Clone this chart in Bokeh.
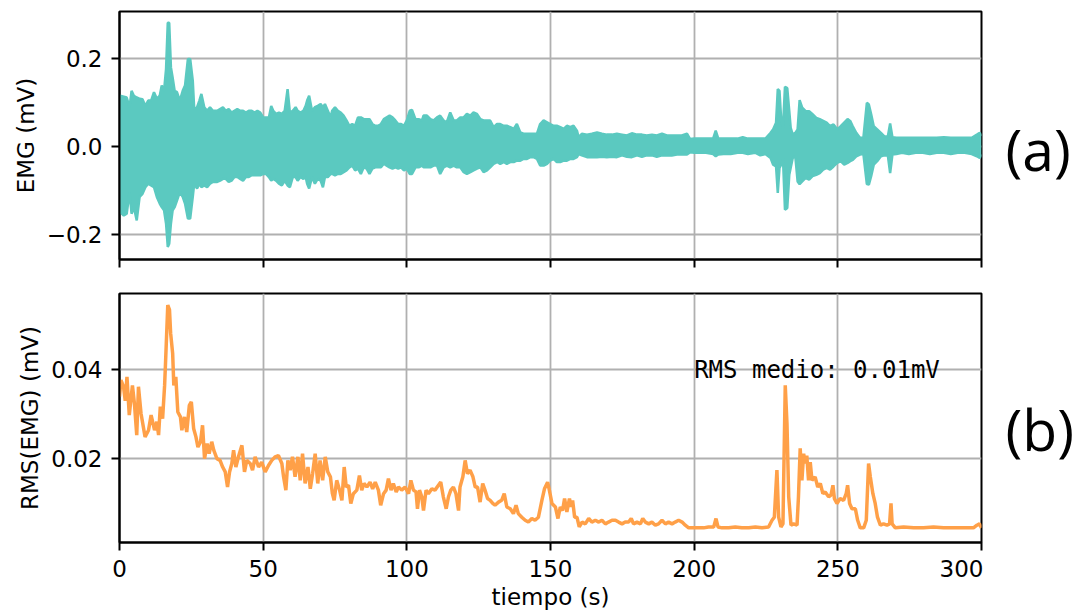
from bokeh.plotting import figure
from bokeh.layouts import column, row
from bokeh.models import Range1d, FixedTicker, Label, CustomJSTickFormatter
from bokeh.core.properties import value
from bokeh.embed import file_html
from bokeh.resources import INLINE

# ---------------- data ----------------
x_ticks = [0, 50, 100, 150, 200, 250, 300]
emg_y_ticks = [-0.2, 0.0, 0.2]
rms_y_ticks = [0.02, 0.04]

# EMG signal envelope (upper / lower extremes of the raw trace), mV
emg_t = [0.0, 0.2, 1.5, 2.5, 3.5, 4.2, 5.0, 6.0, 7.0, 8.0, 9.0, 10.0, 11.0, 12.0, 13.0, 14.0, 14.7, 15.5,
         16.2, 16.8, 17.3, 17.9, 18.5, 19.2, 20.0, 21.0, 22.0, 22.8, 23.8, 24.6, 25.5, 26.0, 27.0, 27.8,
         28.5, 29.5, 30.5, 31.5, 32.5, 34.0, 35.0, 36.0, 37.0, 38.0, 39.0, 40.0, 41.0, 42.0, 43.0, 44.0,
         45.0, 46.0, 47.0, 48.0, 49.0, 50.0, 51.0, 52.0, 52.8, 53.5, 54.5, 55.5, 56.5, 57.5, 58.5, 59.3,
         60.3, 61.3, 62.0, 63.0, 64.0, 64.8, 65.3, 66.0, 67.0, 68.0, 69.0, 70.0, 70.8, 71.5, 72.5, 73.5,
         74.0, 75.0, 76.0, 77.0, 78.0, 79.0, 80.0, 81.0, 82.0, 83.0, 84.0, 85.0, 86.0, 87.0, 88.0, 89.0,
         90.0, 91.0, 92.0, 93.0, 94.0, 95.0, 96.0, 97.0, 98.0, 99.0, 100.0, 101.0, 101.8, 103.0, 104.1,
         105.3, 105.8, 107.0, 108.2, 109.3, 110.5, 111.6, 112.8, 113.9, 115.1, 116.3, 117.4, 118.6, 119.8,
         120.9, 122.1, 123.2, 124.4, 125.6, 126.7, 127.9, 129.0, 130.2, 131.4, 132.5, 133.7, 134.8, 136.0,
         137.2, 138.3, 139.5, 140.6, 141.8, 143.0, 144.1, 145.3, 146.4, 147.6, 148.8, 149.9, 151.1, 152.2,
         153.4, 154.6, 155.7, 156.9, 158.0, 159.2, 159.8, 160.9, 162.7, 164.4, 166.2, 167.9, 169.6, 171.4,
         173.1, 174.9, 176.6, 178.3, 180.1, 181.8, 183.5, 185.3, 187.0, 188.8, 190.5, 192.2, 194.0, 195.7,
         197.5, 198.6, 200.0, 201.7, 204.1, 206.6, 207.5, 208.4, 210.2, 212.7, 215.1, 216.9, 218.7, 221.2,
         223.0, 224.8, 226.6, 227.5, 228.5, 229.1, 229.7, 230.3, 230.9, 231.6, 232.4, 233.1, 233.6, 234.3,
         235.2, 236.0, 236.7, 237.6, 238.8, 240.0, 241.2, 242.5, 243.7, 244.9, 246.1, 247.3, 248.5, 249.8,
         251.0, 252.2, 253.4, 254.3, 255.2, 256.4, 257.7, 258.9, 260.1, 260.8, 261.6, 262.5, 263.7, 265.0,
         266.2, 267.4, 268.2, 269.0, 270.4, 272.3, 274.7, 277.1, 279.6, 282.0, 284.4, 286.9, 289.3, 291.7,
         294.2, 296.6, 298.4, 299.4, 300.0]
emg_hi = [0.115, 0.115, 0.113, 0.111, 0.089, 0.126, 0.115, 0.111, 0.108, 0.107, 0.092, 0.104, 0.104, 0.123,
          0.108, 0.115, 0.138, 0.126, 0.175, 0.280, 0.280, 0.179, 0.156, 0.126, 0.123, 0.104, 0.126, 0.138,
          0.198, 0.198, 0.149, 0.085, 0.089, 0.104, 0.119, 0.089, 0.081, 0.089, 0.081, 0.081, 0.085, 0.089,
          0.081, 0.085, 0.077, 0.081, 0.085, 0.081, 0.081, 0.077, 0.081, 0.081, 0.077, 0.081, 0.077, 0.066,
          0.066, 0.066, 0.092, 0.081, 0.074, 0.077, 0.074, 0.081, 0.130, 0.077, 0.081, 0.089, 0.081, 0.077,
          0.081, 0.092, 0.104, 0.115, 0.081, 0.089, 0.092, 0.096, 0.089, 0.096, 0.081, 0.066, 0.081, 0.089,
          0.081, 0.077, 0.070, 0.059, 0.047, 0.051, 0.047, 0.066, 0.066, 0.062, 0.062, 0.062, 0.051, 0.047,
          0.047, 0.051, 0.062, 0.066, 0.070, 0.066, 0.059, 0.051, 0.051, 0.047, 0.059, 0.081, 0.083, 0.062,
          0.062, 0.059, 0.070, 0.070, 0.062, 0.059, 0.066, 0.070, 0.059, 0.055, 0.077, 0.059, 0.059, 0.066,
          0.066, 0.074, 0.070, 0.077, 0.074, 0.062, 0.059, 0.059, 0.059, 0.044, 0.051, 0.051, 0.047, 0.047,
          0.044, 0.040, 0.051, 0.032, 0.029, 0.029, 0.029, 0.029, 0.029, 0.051, 0.059, 0.055, 0.051, 0.047,
          0.047, 0.044, 0.040, 0.047, 0.044, 0.047, 0.036, 0.021, 0.029, 0.027, 0.029, 0.032, 0.029, 0.027,
          0.027, 0.029, 0.027, 0.025, 0.030, 0.027, 0.027, 0.025, 0.027, 0.025, 0.029, 0.025, 0.025, 0.025,
          0.025, 0.029, 0.017, 0.018, 0.018, 0.018, 0.018, 0.036, 0.018, 0.018, 0.018, 0.018, 0.021, 0.018,
          0.018, 0.018, 0.018, 0.031, 0.039, 0.054, 0.130, 0.126, 0.058, 0.042, 0.135, 0.132, 0.080, 0.042,
          0.027, 0.031, 0.039, 0.105, 0.088, 0.080, 0.080, 0.073, 0.065, 0.062, 0.058, 0.054, 0.046, 0.050,
          0.039, 0.046, 0.054, 0.062, 0.058, 0.046, 0.031, 0.020, 0.020, 0.099, 0.095, 0.073, 0.046, 0.039,
          0.031, 0.023, 0.023, 0.052, 0.021, 0.020, 0.020, 0.020, 0.020, 0.020, 0.020, 0.020, 0.021, 0.020,
          0.020, 0.020, 0.020, 0.027, 0.031, 0.024]
emg_lo = [-0.148, -0.148, -0.156, -0.152, -0.103, -0.152, -0.137, -0.167, -0.114, -0.107, -0.092, -0.084,
          -0.088, -0.092, -0.114, -0.129, -0.137, -0.144, -0.174, -0.227, -0.220, -0.174, -0.144, -0.137,
          -0.122, -0.103, -0.114, -0.129, -0.163, -0.163, -0.114, -0.084, -0.095, -0.084, -0.092, -0.088,
          -0.092, -0.084, -0.080, -0.080, -0.077, -0.073, -0.073, -0.080, -0.077, -0.069, -0.069, -0.073,
          -0.077, -0.069, -0.069, -0.065, -0.065, -0.065, -0.065, -0.062, -0.062, -0.069, -0.077, -0.073,
          -0.077, -0.084, -0.088, -0.077, -0.088, -0.092, -0.069, -0.069, -0.077, -0.069, -0.073, -0.069,
          -0.084, -0.095, -0.069, -0.084, -0.073, -0.077, -0.092, -0.069, -0.069, -0.062, -0.062, -0.065,
          -0.062, -0.062, -0.058, -0.054, -0.047, -0.043, -0.054, -0.050, -0.062, -0.047, -0.050, -0.062,
          -0.050, -0.047, -0.047, -0.047, -0.039, -0.043, -0.047, -0.050, -0.047, -0.050, -0.047, -0.054,
          -0.050, -0.062, -0.062, -0.047, -0.047, -0.043, -0.047, -0.047, -0.047, -0.043, -0.043, -0.062,
          -0.047, -0.043, -0.047, -0.043, -0.047, -0.047, -0.058, -0.062, -0.058, -0.054, -0.050, -0.047,
          -0.058, -0.054, -0.047, -0.039, -0.035, -0.039, -0.035, -0.039, -0.035, -0.035, -0.032, -0.032,
          -0.028, -0.028, -0.024, -0.024, -0.028, -0.043, -0.043, -0.039, -0.032, -0.028, -0.035, -0.035,
          -0.032, -0.032, -0.028, -0.028, -0.024, -0.017, -0.020, -0.024, -0.024, -0.024, -0.023, -0.024,
          -0.023, -0.024, -0.020, -0.023, -0.024, -0.020, -0.023, -0.020, -0.020, -0.023, -0.020, -0.020,
          -0.020, -0.018, -0.018, -0.018, -0.013, -0.014, -0.014, -0.014, -0.017, -0.022, -0.018, -0.017,
          -0.017, -0.014, -0.014, -0.017, -0.014, -0.020, -0.017, -0.026, -0.041, -0.045, -0.105, -0.048,
          -0.041, -0.026, -0.143, -0.139, -0.064, -0.048, -0.026, -0.022, -0.079, -0.085, -0.079, -0.071,
          -0.075, -0.067, -0.064, -0.060, -0.052, -0.048, -0.052, -0.045, -0.037, -0.033, -0.041, -0.037,
          -0.033, -0.030, -0.022, -0.018, -0.017, -0.085, -0.086, -0.067, -0.041, -0.033, -0.022, -0.020,
          -0.020, -0.060, -0.018, -0.017, -0.014, -0.017, -0.014, -0.014, -0.017, -0.014, -0.014, -0.017,
          -0.014, -0.014, -0.017, -0.022, -0.026, -0.018]

# RMS of the EMG signal, mV
rms_t = [0.0, 0.5, 1.4, 2.0, 2.6, 3.4, 4.5, 5.2, 6.0, 6.6, 7.5, 8.9, 10.1, 11.0, 12.2, 13.0, 13.6, 14.2,
         15.0, 15.7, 16.1, 16.8, 17.4, 17.8, 18.5, 18.9, 19.6, 20.3, 21.2, 21.7, 22.6, 23.4, 24.3, 25.0,
         25.8, 26.6, 27.3, 28.2, 28.9, 29.6, 30.5, 31.2, 32.1, 32.8, 33.9, 35.0, 35.9, 36.8, 37.6, 38.3,
         39.1, 39.7, 40.5, 41.4, 42.6, 43.5, 44.3, 45.5, 46.3, 47.2, 48.4, 49.5, 50.7, 51.9, 53.0, 54.2,
         55.3, 56.5, 57.1, 57.9, 58.6, 59.4, 60.2, 61.1, 62.1, 62.9, 63.7, 64.6, 65.6, 66.4, 67.2, 68.1,
         69.0, 69.8, 70.7, 71.6, 72.5, 73.4, 74.1, 74.7, 75.6, 76.6, 77.4, 78.2, 78.9, 79.7, 80.5, 81.4,
         82.6, 83.5, 84.3, 85.1, 86.1, 87.2, 88.1, 89.0, 90.1, 90.9, 91.9, 92.8, 93.6, 94.5, 95.3, 96.3,
         97.1, 98.2, 99.4, 100.6, 101.4, 102.3, 103.2, 103.7, 104.4, 105.2, 105.8, 106.7, 107.5, 108.7,
         109.8, 111.0, 111.8, 112.7, 113.7, 114.5, 115.3, 116.2, 117.1, 118.0, 118.5, 119.5, 120.3, 121.1,
         122.0, 123.0, 123.8, 124.6, 125.5, 126.4, 127.2, 128.1, 129.0, 129.9, 130.7, 131.9, 133.0, 133.9,
         134.8, 136.0, 137.1, 138.0, 138.8, 140.0, 141.2, 142.3, 143.5, 144.6, 145.8, 147.0, 147.9, 149.0,
         149.6, 150.5, 151.7, 152.6, 153.4, 154.2, 154.9, 155.7, 156.6, 157.2, 157.7, 158.4, 159.2, 160.0,
         161.0, 162.1, 163.3, 164.4, 165.6, 166.8, 167.9, 169.1, 170.2, 171.4, 172.6, 173.7, 174.9, 176.0,
         177.2, 178.1, 178.9, 180.1, 181.3, 182.1, 183.0, 184.2, 185.3, 186.5, 187.6, 188.8, 190.0, 191.1,
         192.3, 193.4, 194.6, 195.8, 196.9, 198.1, 199.8, 201.6, 203.3, 205.0, 206.8, 207.6, 208.3, 209.7,
         212.0, 214.3, 216.6, 219.0, 221.3, 223.6, 225.9, 227.1, 227.9, 228.8, 229.4, 230.2, 230.9, 231.7,
         232.3, 232.9, 233.7, 234.6, 235.8, 236.3, 236.9, 237.5, 238.1, 238.7, 239.2, 239.8, 240.4, 241.0,
         242.1, 243.0, 243.9, 244.8, 245.6, 246.8, 247.6, 248.3, 248.8, 249.7, 250.8, 252.0, 252.9, 253.4,
         254.1, 254.9, 256.1, 256.9, 257.8, 259.0, 259.9, 260.7, 261.3, 262.2, 263.0, 263.8, 264.8, 265.9,
         267.1, 268.0, 268.5, 268.9, 270.0, 272.9, 276.4, 279.8, 283.3, 286.8, 290.3, 293.8, 297.2, 298.4,
         299.3, 300.0]
rms_v = [0.0340, 0.0377, 0.0362, 0.0330, 0.0384, 0.0298, 0.0365, 0.0324, 0.0253, 0.0362, 0.0301, 0.0249,
         0.0264, 0.0298, 0.0264, 0.0283, 0.0253, 0.0317, 0.0290, 0.0365, 0.0429, 0.0546, 0.0535, 0.0482,
         0.0437, 0.0365, 0.0384, 0.0305, 0.0294, 0.0264, 0.0294, 0.0260, 0.0320, 0.0328, 0.0268, 0.0249,
         0.0226, 0.0238, 0.0275, 0.0200, 0.0234, 0.0211, 0.0238, 0.0219, 0.0200, 0.0196, 0.0181, 0.0170,
         0.0136, 0.0170, 0.0189, 0.0219, 0.0181, 0.0204, 0.0230, 0.0170, 0.0196, 0.0189, 0.0174, 0.0204,
         0.0181, 0.0192, 0.0170, 0.0185, 0.0196, 0.0204, 0.0207, 0.0189, 0.0159, 0.0129, 0.0196, 0.0174,
         0.0204, 0.0159, 0.0204, 0.0151, 0.0211, 0.0144, 0.0181, 0.0132, 0.0166, 0.0211, 0.0144, 0.0196,
         0.0151, 0.0204, 0.0170, 0.0159, 0.0121, 0.0106, 0.0151, 0.0129, 0.0106, 0.0181, 0.0136, 0.0140,
         0.0099, 0.0121, 0.0129, 0.0162, 0.0129, 0.0144, 0.0136, 0.0147, 0.0132, 0.0147, 0.0129, 0.0095,
         0.0121, 0.0129, 0.0155, 0.0129, 0.0144, 0.0125, 0.0136, 0.0129, 0.0136, 0.0121, 0.0151, 0.0129,
         0.0125, 0.0087, 0.0129, 0.0114, 0.0083, 0.0129, 0.0121, 0.0132, 0.0129, 0.0140, 0.0147, 0.0114,
         0.0087, 0.0114, 0.0129, 0.0136, 0.0121, 0.0083, 0.0136, 0.0159, 0.0196, 0.0166, 0.0174, 0.0159,
         0.0136, 0.0136, 0.0102, 0.0144, 0.0129, 0.0110, 0.0106, 0.0099, 0.0095, 0.0102, 0.0106, 0.0121,
         0.0091, 0.0087, 0.0076, 0.0095, 0.0076, 0.0068, 0.0061, 0.0057, 0.0065, 0.0061, 0.0068, 0.0106,
         0.0132, 0.0147, 0.0129, 0.0099, 0.0091, 0.0065, 0.0091, 0.0083, 0.0110, 0.0080, 0.0110, 0.0091,
         0.0106, 0.0068, 0.0068, 0.0046, 0.0057, 0.0053, 0.0065, 0.0057, 0.0061, 0.0057, 0.0061, 0.0053,
         0.0057, 0.0061, 0.0061, 0.0057, 0.0053, 0.0057, 0.0057, 0.0065, 0.0053, 0.0057, 0.0053, 0.0065,
         0.0057, 0.0053, 0.0057, 0.0050, 0.0053, 0.0061, 0.0053, 0.0057, 0.0053, 0.0057, 0.0061, 0.0057,
         0.0050, 0.0044, 0.0044, 0.0044, 0.0044, 0.0046, 0.0046, 0.0065, 0.0046, 0.0044, 0.0044, 0.0046,
         0.0044, 0.0044, 0.0046, 0.0044, 0.0046, 0.0061, 0.0068, 0.0174, 0.0068, 0.0046, 0.0053, 0.0365,
         0.0279, 0.0114, 0.0050, 0.0053, 0.0050, 0.0114, 0.0223, 0.0151, 0.0211, 0.0189, 0.0207, 0.0151,
         0.0192, 0.0151, 0.0159, 0.0136, 0.0144, 0.0121, 0.0125, 0.0114, 0.0118, 0.0140, 0.0110, 0.0099,
         0.0110, 0.0106, 0.0121, 0.0140, 0.0099, 0.0087, 0.0087, 0.0061, 0.0044, 0.0044, 0.0061, 0.0189,
         0.0159, 0.0121, 0.0099, 0.0068, 0.0050, 0.0053, 0.0050, 0.0053, 0.0099, 0.0053, 0.0044, 0.0046,
         0.0044, 0.0044, 0.0046, 0.0044, 0.0044, 0.0044, 0.0044, 0.0050, 0.0053, 0.0044]

rms_note = "RMS medio: 0.01mV"
panel_labels = ["(a)", "(b)"]

TEAL = "#5bc9c0"
ORANGE = "#ffa048"
FONT = "DejaVu Sans"
FS = "23px"


def style(p, yticks, show_x_labels):
    p.background_fill_color = "white"
    p.border_fill_color = "white"
    p.outline_line_color = "black"
    p.outline_line_width = 2
    p.xaxis.ticker = FixedTicker(ticks=x_ticks)
    p.yaxis.ticker = FixedTicker(ticks=yticks)
    for ax in (p.xaxis[0], p.yaxis[0]):
        ax.axis_line_color = "black"
        ax.axis_line_width = 2
        ax.major_tick_line_color = "black"
        ax.major_tick_line_width = 2
        ax.major_tick_out = 8
        ax.major_tick_in = 0
        ax.minor_tick_line_color = None
        ax.major_label_text_font = FONT
        ax.major_label_text_font_size = FS
        ax.major_label_text_color = "black"
        ax.axis_label_text_font = FONT
        ax.axis_label_text_font_size = FS
        ax.axis_label_text_font_style = "normal"
        ax.axis_label_text_color = "black"
    p.yaxis.major_label_standoff = 9
    p.yaxis.axis_label_standoff = 5
    p.xaxis.major_label_standoff = 9
    p.xaxis.axis_label_standoff = 4
    if not show_x_labels:
        p.xaxis.formatter = CustomJSTickFormatter(code="return '';")
        p.xaxis.major_label_text_font_size = "1px"
        p.xaxis.major_label_standoff = 0
    p.xgrid.ticker = FixedTicker(ticks=x_ticks)
    p.ygrid.ticker = FixedTicker(ticks=yticks)
    for g in (p.xgrid[0], p.ygrid[0]):
        g.grid_line_color = "#b0b0b0"
        g.grid_line_width = 1.8


p1 = figure(width=983, height=283, output_backend="svg", toolbar_location=None,
            x_range=Range1d(0, 300), y_range=Range1d(-0.2555, 0.3055),
            min_border_left=119, min_border_right=2, min_border_top=11, min_border_bottom=24)
style(p1, emg_y_ticks, False)
p1.yaxis.axis_label = "EMG (mV)"
p1.yaxis.formatter = CustomJSTickFormatter(code="return tick.toFixed(1).replace('-', '\\u2212');")
p1.varea(x=emg_t, y1=emg_lo, y2=emg_hi, fill_color=TEAL)
p1.line(emg_t, emg_hi, line_color=TEAL, line_width=2.5)
p1.line(emg_t, emg_lo, line_color=TEAL, line_width=2.5)

p2 = figure(width=983, height=329, output_backend="svg", toolbar_location=None,
            x_range=Range1d(0, 300), y_range=Range1d(0.0011, 0.0572),
            min_border_left=119, min_border_right=2, min_border_top=10, min_border_bottom=70)
style(p2, rms_y_ticks, True)
p2.yaxis.axis_label = "RMS(EMG) (mV)"
p2.xaxis.axis_label = "tiempo (s)"
p2.yaxis.formatter = CustomJSTickFormatter(code="return tick.toFixed(2);")
p2.line(rms_t, rms_v, line_color=ORANGE, line_width=3.5)
p2.add_layout(Label(x=200, y=0.04, text=rms_note, text_font="DejaVu Sans Mono", text_font_size="24px",
                    text_baseline="alphabetic", text_align="left", text_color="black"))

# side strip holding the panel letters, in pixel coordinates (y downward)
p3 = figure(width=96, height=612, output_backend="svg", toolbar_location=None,
            x_range=Range1d(0, 96), y_range=Range1d(612, 0),
            min_border=0, x_axis_location=None, y_axis_location=None)
p3.outline_line_color = None
p3.grid.visible = False
p3.background_fill_color = "white"
p3.border_fill_color = "white"
p3.text(x=[22, 22], y=[148, 428], text=panel_labels, text_font=value("Open Sans"),
        text_font_size="57px", text_baseline="middle", text_align="left", text_color="black")

layout = row(column(p1, p2, spacing=0), p3, spacing=0)
open("out.html", "w").write(file_html(layout, INLINE))
